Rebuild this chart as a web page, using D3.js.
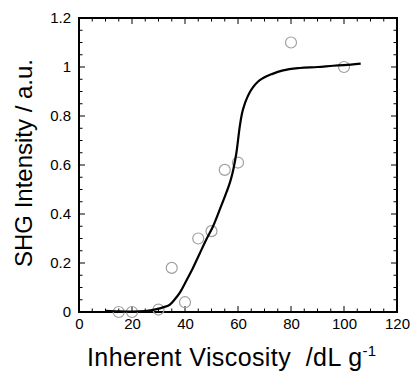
<!DOCTYPE html>
<html><head><meta charset="utf-8">
<script src="https://cdn.jsdelivr.net/npm/d3@7"></script>
<style>body{margin:0;background:#fff}</style>
</head><body>
<svg id="c" width="414" height="383"></svg>
<script>
const pointX = [15, 20, 30, 35, 40, 45, 50, 55, 60, 80, 100];
const pointY = [0.0, 0.0, 0.01, 0.18, 0.04, 0.30, 0.33, 0.58, 0.61, 1.10, 1.00];
const curveX = [10.2, 15, 20.5, 25, 29.3, 32, 34.3, 36, 38, 40.6, 43, 45.6, 48, 50.6, 53, 55.7, 57, 58.2, 59.4, 60.7, 61.5, 62.5, 63.5, 64.5, 65.7, 67.5, 69.5, 73, 77, 83.3, 90, 95.9, 100, 106.3];
const curveY = [0.005, 0.003, 0.002, 0.004, 0.012, 0.02, 0.03, 0.05, 0.078, 0.13, 0.18, 0.24, 0.295, 0.35, 0.415, 0.49, 0.53, 0.58, 0.65, 0.76, 0.81, 0.848, 0.876, 0.898, 0.918, 0.94, 0.955, 0.972, 0.986, 0.996, 1.0, 1.005, 1.008, 1.014];
const xTicks = [0, 20, 40, 60, 80, 100, 120];
const yTicks = [0, 0.2, 0.4, 0.6, 0.8, 1, 1.2];

const svg = d3.select("#c");
const L = 79, R = 397, T = 18, B = 312;
const x = d3.scaleLinear().domain([0, 120]).range([L, R]);
const y = d3.scaleLinear().domain([0, 1.2]).range([B, T]);
const font = "Liberation Sans, Arial, sans-serif";

const xMinor = d3.range(0, 121, 5), yMinor = d3.range(0, 1.2001, 0.05);
const tg = svg.append("g").attr("stroke", "#000").attr("stroke-width", 1);
xMinor.forEach(v => {
  const len = (Math.round(v) % 20 === 0) ? 6 : 3.5;
  tg.append("line").attr("x1", x(v)).attr("x2", x(v)).attr("y1", B).attr("y2", B - len);
  tg.append("line").attr("x1", x(v)).attr("x2", x(v)).attr("y1", T).attr("y2", T + len);
});
yMinor.forEach(v => {
  const major = Math.abs(Math.round(v * 100) % 20) === 0;
  const len = major ? 6 : 3.5;
  tg.append("line").attr("y1", y(v)).attr("y2", y(v)).attr("x1", L).attr("x2", L + len);
  tg.append("line").attr("y1", y(v)).attr("y2", y(v)).attr("x1", R).attr("x2", R - len);
});

const xAxis = d3.axisBottom(x).tickValues(xTicks).tickSize(0).tickPadding(6).tickFormat(d3.format("d"));
const gx = svg.append("g").attr("transform", `translate(0,${B})`).call(xAxis);
gx.select(".domain").remove();
gx.selectAll("text").attr("font-family", font).attr("font-size", 15).attr("fill", "#000");
const yAxis = d3.axisLeft(y).tickValues(yTicks).tickSize(0).tickPadding(8).tickFormat(d => d === 0 ? "0" : d3.format("")(+d.toFixed(1)));
const gy = svg.append("g").attr("transform", `translate(${L},0)`).call(yAxis);
gy.select(".domain").remove();
gy.selectAll("text").attr("font-family", font).attr("font-size", 15).attr("fill", "#000");

svg.append("rect").attr("x", L).attr("y", T).attr("width", R - L).attr("height", B - T)
  .attr("fill", "none").attr("stroke", "#000").attr("stroke-width", 2);

svg.append("g").selectAll("circle").data(pointX).join("circle")
  .attr("cx", (d) => x(d)).attr("cy", (d, i) => y(pointY[i])).attr("r", 5.5)
  .attr("fill", "none").attr("stroke", "#a0a0a0").attr("stroke-width", 1.2);

const line = d3.line().x(d => x(d[0])).y(d => y(d[1])).curve(d3.curveMonotoneX);
svg.append("path").datum(curveX.map((v, i) => [v, curveY[i]])).attr("d", line)
  .attr("fill", "none").attr("stroke", "#000").attr("stroke-width", 2.2);

svg.append("text").attr("transform", `translate(32,163) rotate(-90)`)
  .attr("text-anchor", "middle").attr("font-family", font).attr("font-size", 24).attr("fill", "#000")
  .text("SHG Intensity / a.u.");
const xt = svg.append("text").attr("x", 87).attr("y", 366).attr("text-anchor", "start")
  .attr("font-family", font).attr("font-size", 25).attr("letter-spacing", 0.4).attr("fill", "#000");
xt.append("tspan").text("Inherent Viscosity\u00a0\u00a0/dL g");
xt.append("tspan").attr("dy", -10).attr("font-size", 15).text("-1");
</script>
</body></html>
